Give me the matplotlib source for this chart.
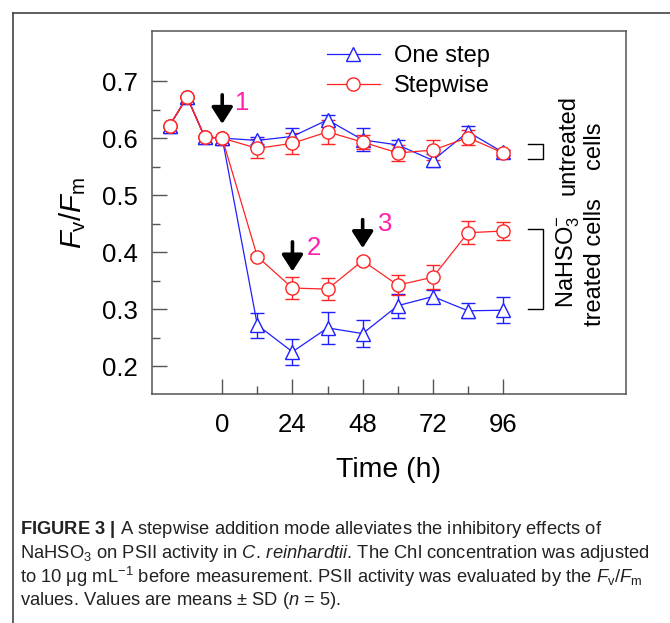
import matplotlib
matplotlib.use("Agg")
import matplotlib.pyplot as plt
from matplotlib.lines import Line2D

plt.rcParams["font.family"] = ["Liberation Sans", "DejaVu Sans"]
plt.rcParams["mathtext.fontset"] = "custom"
plt.rcParams["mathtext.rm"] = "Liberation Sans"
plt.rcParams["mathtext.it"] = "Liberation Sans:italic"
plt.rcParams["mathtext.bf"] = "Liberation Sans:bold"

# ---- data: Fv/Fm over time ----
pre_time = [-18, -12, -6, 0]
pre_fvfm = [0.622, 0.672, 0.602, 0.600]

post_time = [12, 24, 36, 48, 60, 72, 84, 96]

one_step_ctrl = [0.596, 0.603, 0.632, 0.597, 0.588, 0.561, 0.611, 0.575]
one_step_ctrl_sd = [0.006, 0.015, 0.008, 0.020, 0.008, 0.012, 0.010, 0.005]
stepwise_ctrl = [0.582, 0.591, 0.611, 0.593, 0.574, 0.579, 0.601, 0.574]
stepwise_ctrl_sd = [0.016, 0.018, 0.021, 0.012, 0.014, 0.018, 0.013, 0.005]

one_step_trt = [0.272, 0.225, 0.267, 0.257, 0.306, 0.322, 0.297, 0.298]
one_step_trt_sd = [0.022, 0.023, 0.028, 0.023, 0.021, 0.012, 0.013, 0.023]
stepwise_trt = [0.392, 0.337, 0.335, 0.385, 0.342, 0.356, 0.434, 0.437]
stepwise_trt_sd = [0.004, 0.019, 0.019, 0.005, 0.017, 0.021, 0.020, 0.015]

x_ticks = [0, 24, 48, 72, 96]
y_ticks = [0.2, 0.3, 0.4, 0.5, 0.6, 0.7]

BLUE = "#1f1fff"
RED = "#ff2424"
PINK = "#ff1fae"
FRAME = "#555555"

fig = plt.figure(figsize=(6.70, 6.23), dpi=100)
ax = fig.add_axes([152 / 670, 1 - 394 / 623, 474 / 670, 363 / 623])


def draw_series(values, sd, color, marker, ms):
    t = pre_time + post_time
    v = pre_fvfm + values
    e = [0] * len(pre_time) + sd
    ax.errorbar(t, v, yerr=e, color=color, lw=0.9, elinewidth=1.0,
                capsize=5, capthick=1.0, marker=marker, ms=ms,
                mfc="white", mec=color, mew=1.0)


draw_series(one_step_ctrl, one_step_ctrl_sd, BLUE, "^", 10)
draw_series(one_step_trt, one_step_trt_sd, BLUE, "^", 10)
draw_series(stepwise_ctrl, stepwise_ctrl_sd, RED, "o", 9.5)
draw_series(stepwise_trt, stepwise_trt_sd, RED, "o", 9.5)

ax.set_xlim(-24, 138)
ax.set_ylim(0.151, 0.788)
ax.set_xticks(x_ticks)
ax.set_xticks([12, 36, 60, 84], minor=True)
ax.set_yticks(y_ticks)
ax.set_yticks([0.25, 0.35, 0.45, 0.55, 0.65], minor=True)
ax.set_xticklabels([str(v) for v in x_ticks])
ax.set_yticklabels([f"{v:.1f}" for v in y_ticks])
ax.tick_params(which="both", direction="in", color=FRAME, width=1.0,
               labelsize=18.5, top=False, right=False)
ax.tick_params(axis="x", which="major", length=11, pad=14)
ax.tick_params(axis="x", which="minor", length=5.5)
ax.tick_params(axis="y", which="major", length=11, pad=10)
ax.tick_params(axis="y", which="minor", length=5.5)
for s in ax.spines.values():
    s.set_color(FRAME)
    s.set_linewidth(1.1)

ax.set_xlabel("Time (h)", fontsize=20.5, labelpad=14)
ax.set_ylabel(r"$\mathit{F}_{\mathrm{v}}/\mathit{F}_{\mathrm{m}}$",
              fontsize=21, labelpad=10)

# legend
handles = [
    Line2D([], [], color=BLUE, lw=0.9, marker="^", ms=10, mfc="white", mec=BLUE),
    Line2D([], [], color=RED, lw=0.9, marker="o", ms=9.5, mfc="white", mec=RED),
]
ax.legend(handles, ["One step", "Stepwise"], loc="upper left",
          bbox_to_anchor=(0.369, 0.961), frameon=False, fontsize=17,
          handlelength=2.25, handletextpad=0.6, labelspacing=0.35,
          borderpad=0, borderaxespad=0)

# addition arrows
arrow_kw = dict(arrowstyle="-|>,head_length=0.5,head_width=0.32",
                color="black", lw=2.6, mutation_scale=20, shrinkA=0, shrinkB=0)
for t_add, y_top, y_tip, lab, lx, ly in [
    (0, 0.676, 0.625, "1", 4.5, 0.661),
    (24, 0.418, 0.366, "2", 29, 0.407),
    (48, 0.457, 0.407, "3", 53.3, 0.449),
]:
    ax.annotate("", xy=(t_add, y_tip), xytext=(t_add, y_top), arrowprops=arrow_kw)
    ax.text(lx, ly, lab, color=PINK, fontsize=18.5, ha="left", va="center")

# group brackets
ax.plot([104.6, 109.7, 109.7, 104.6], [0.5895, 0.5895, 0.564, 0.564],
        color="black", lw=1.0)
ax.plot([104.6, 109.7, 109.7, 104.6], [0.440, 0.440, 0.2995, 0.2995],
        color="black", lw=1.0)
ax.text(122.7, 0.5877, "untreated\ncells", rotation=90, fontsize=17,
        ha="center", va="center", multialignment="center", linespacing=1.15)
ax.text(122.4, 0.3825, "NaHSO$_3^{-}$\ntreated cells", rotation=90,
        fontsize=17, ha="center", va="center", multialignment="center",
        linespacing=1.15)

# panel frame
fig.add_artist(Line2D([13 / 670, 13 / 670], [1 - 13 / 623, 0],
                      transform=fig.transFigure, color="#444444", lw=1.2))
fig.add_artist(Line2D([13 / 670, 1], [1 - 13 / 623, 1 - 13 / 623],
                      transform=fig.transFigure, color="#444444", lw=1.2))

# caption
caption = [
    r"$\mathbf{FIGURE\ 3\ |}$ A stepwise addition mode alleviates the inhibitory effects of",
    r"NaHSO$_3$ on PSII activity in $\mathit{C.\,reinhardtii}$. The Chl concentration was adjusted",
    r"to 10 $\mathrm{\mu}$g mL$^{-1}$ before measurement. PSII activity was evaluated by the "
    r"$\mathit{F}_{\mathrm{v}}/\mathit{F}_{\mathrm{m}}$",
    r"values. Values are means $\pm$ SD ($\mathit{n}$ = 5).",
]
for i, line in enumerate(caption):
    fig.text(20 / 670, 1 - (530 + 23.5 * i) / 623, line, fontsize=13.2,
             color="#222222", ha="left", va="center")

fig.savefig("out.png", dpi=100)
